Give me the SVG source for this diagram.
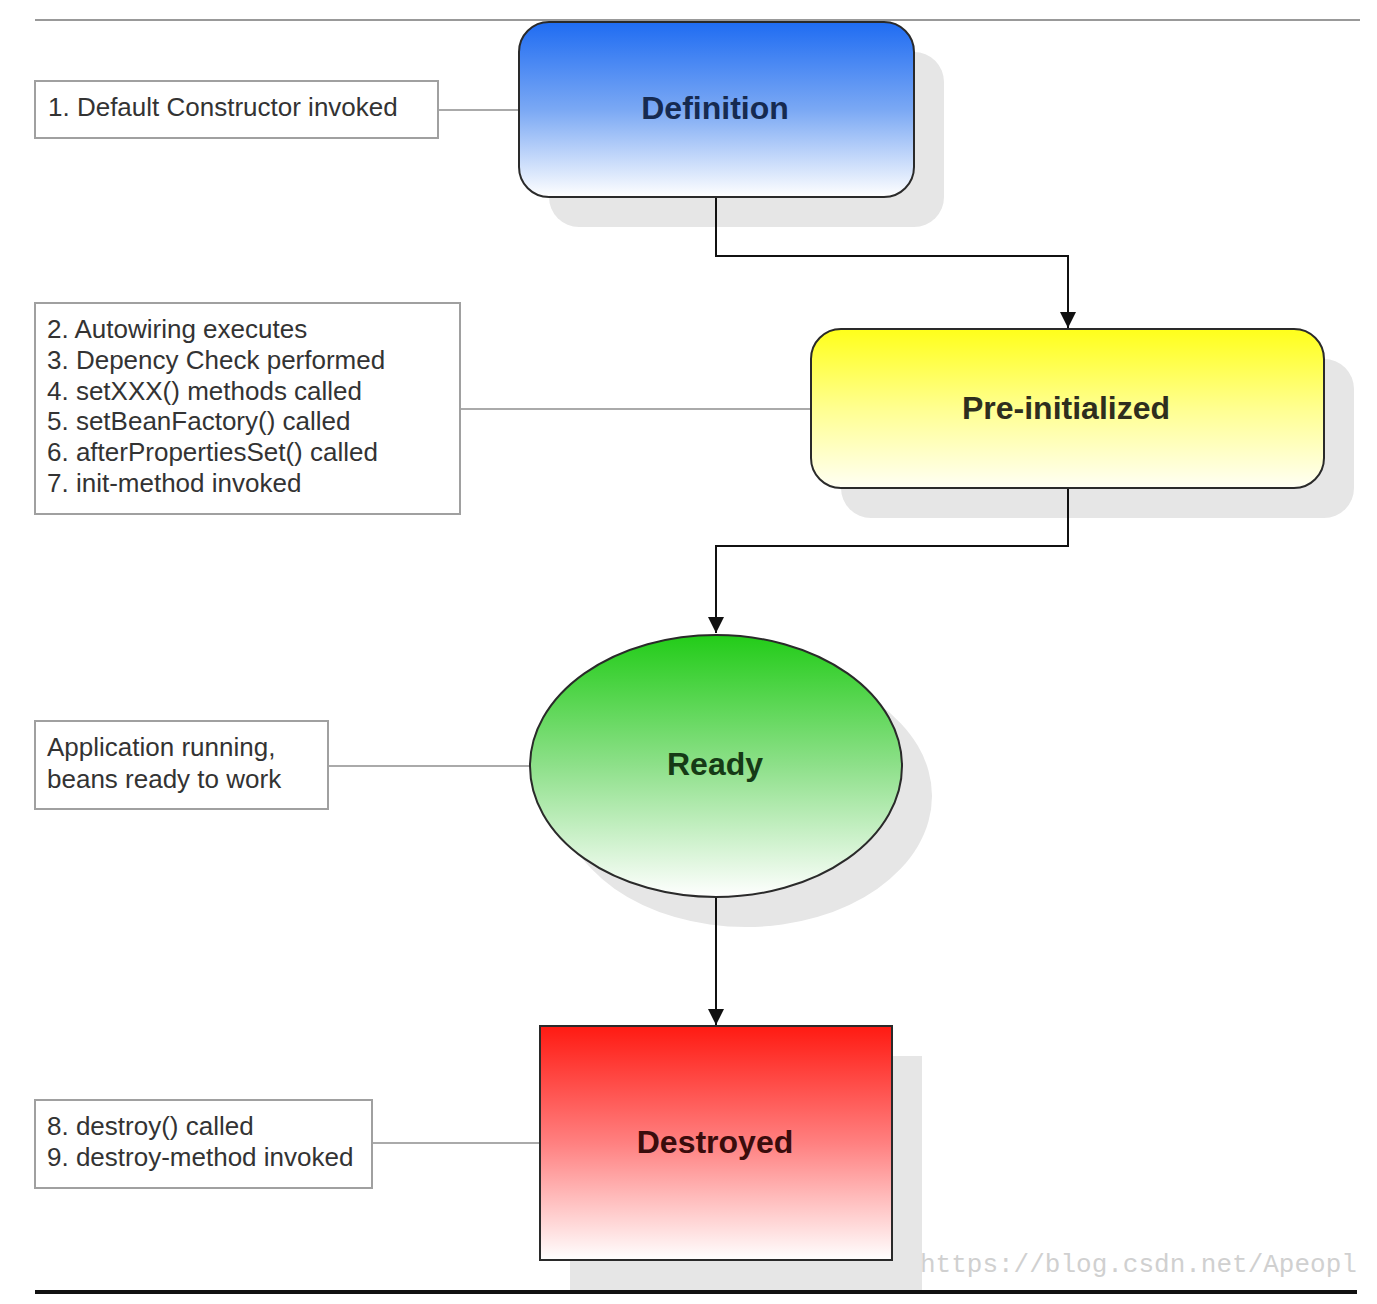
<svg xmlns="http://www.w3.org/2000/svg" width="1377" height="1304" viewBox="0 0 1377 1304">
<defs>
<linearGradient id="gBlue" x1="0" y1="0" x2="0" y2="1"><stop offset="0" stop-color="#1f6cf2"/><stop offset="0.5" stop-color="#7aa8f4"/><stop offset="1" stop-color="#ffffff"/></linearGradient>
<linearGradient id="gYellow" x1="0" y1="0" x2="0" y2="1"><stop offset="0" stop-color="#ffff1a"/><stop offset="0.5" stop-color="#ffff90"/><stop offset="1" stop-color="#fffff4"/></linearGradient>
<linearGradient id="gGreen" x1="0" y1="0" x2="0" y2="1"><stop offset="0" stop-color="#22cc18"/><stop offset="0.5" stop-color="#8ee08a"/><stop offset="1" stop-color="#ffffff"/></linearGradient>
<linearGradient id="gRed" x1="0" y1="0" x2="0" y2="1"><stop offset="0" stop-color="#ff1a12"/><stop offset="0.5" stop-color="#ff8080"/><stop offset="1" stop-color="#ffffff"/></linearGradient>
<marker id="arr" viewBox="0 0 10 10" refX="10" refY="5" markerWidth="16" markerHeight="16" markerUnits="userSpaceOnUse" orient="auto"><path d="M0,0 L10,5 L0,10 z" fill="#111"/></marker>
</defs>
<style>
.shadow{fill:#e6e6e6}
.node{stroke:#2a2a2a;stroke-width:2}
.label{font-family:"Liberation Sans",Arial,sans-serif;font-weight:bold;font-size:32px;text-anchor:middle}
.note rect{fill:#fff;stroke:#a0a0a0;stroke-width:2}
.note text{font-family:"Liberation Sans",Arial,sans-serif;font-size:26px;fill:#333}
.link{stroke:#aaaaaa;stroke-width:2;fill:none}
.flow{stroke:#111;stroke-width:2;fill:none}
</style>
<rect width="1377" height="1304" fill="#fff"/>
<line x1="35" y1="20" x2="1360" y2="20" stroke="#999" stroke-width="2"/>
<g id="shadows">
<rect class="shadow" x="549" y="52" width="395" height="175" rx="30"/>
<rect class="shadow" x="841" y="359" width="513" height="159" rx="30"/>
<ellipse class="shadow" cx="746" cy="796" rx="186" ry="131"/>
<rect class="shadow" x="570" y="1056" width="352" height="234"/>
</g>
<g id="connectors">
<line class="link" x1="438" y1="110" x2="519" y2="110"/>
<line class="link" x1="460" y1="409" x2="811" y2="409"/>
<line class="link" x1="328" y1="766" x2="530" y2="766"/>
<line class="link" x1="372" y1="1143" x2="540" y2="1143"/>
<polyline class="flow" points="716,198 716,256 1068,256 1068,328" marker-end="url(#arr)"/>
<polyline class="flow" points="1068,489 1068,546 716,546 716,633" marker-end="url(#arr)"/>
<line class="flow" x1="716" y1="898" x2="716" y2="1025" marker-end="url(#arr)"/>
</g>
<g id="definition">
<rect class="node" x="519" y="22" width="395" height="175" rx="30" fill="url(#gBlue)"/>
<text class="label" x="715" y="119" fill="#162a50">Definition</text>
</g>
<g id="preinitialized">
<rect class="node" x="811" y="329" width="513" height="159" rx="30" fill="url(#gYellow)"/>
<text class="label" x="1066" y="419" fill="#2e2e1e">Pre-initialized</text>
</g>
<g id="ready">
<ellipse class="node" cx="716" cy="766" rx="186" ry="131" fill="url(#gGreen)"/>
<text class="label" x="715" y="775" fill="#163a16">Ready</text>
</g>
<g id="destroyed">
<rect class="node" x="540" y="1026" width="352" height="234" fill="url(#gRed)"/>
<text class="label" x="715" y="1153" fill="#3a0c0c">Destroyed</text>
</g>
<g id="note1" class="note">
<rect x="35" y="81" width="403" height="57"/>
<text x="48" y="116">1. Default Constructor invoked</text>
</g>
<g id="note2" class="note">
<rect x="35" y="303" width="425" height="211"/>
<text x="47" y="338">2. Autowiring executes</text>
<text x="47" y="369">3. Depency Check performed</text>
<text x="47" y="400">4. setXXX() methods called</text>
<text x="47" y="430">5. setBeanFactory() called</text>
<text x="47" y="461">6. afterPropertiesSet() called</text>
<text x="47" y="492">7. init-method invoked</text>
</g>
<g id="note3" class="note">
<rect x="35" y="721" width="293" height="88"/>
<text x="47" y="756">Application running,</text>
<text x="47" y="788">beans ready to work</text>
</g>
<g id="note4" class="note">
<rect x="35" y="1100" width="337" height="88"/>
<text x="47" y="1135">8. destroy() called</text>
<text x="47" y="1166">9. destroy-method invoked</text>
</g>
<line x1="35" y1="1292" x2="1357" y2="1292" stroke="#111" stroke-width="4"/>
<text x="920" y="1272" font-family="'Liberation Mono','DejaVu Sans Mono',monospace" font-size="26" fill="#d0d0d0">https://blog.csdn.net/Apeopl</text>
</svg>
